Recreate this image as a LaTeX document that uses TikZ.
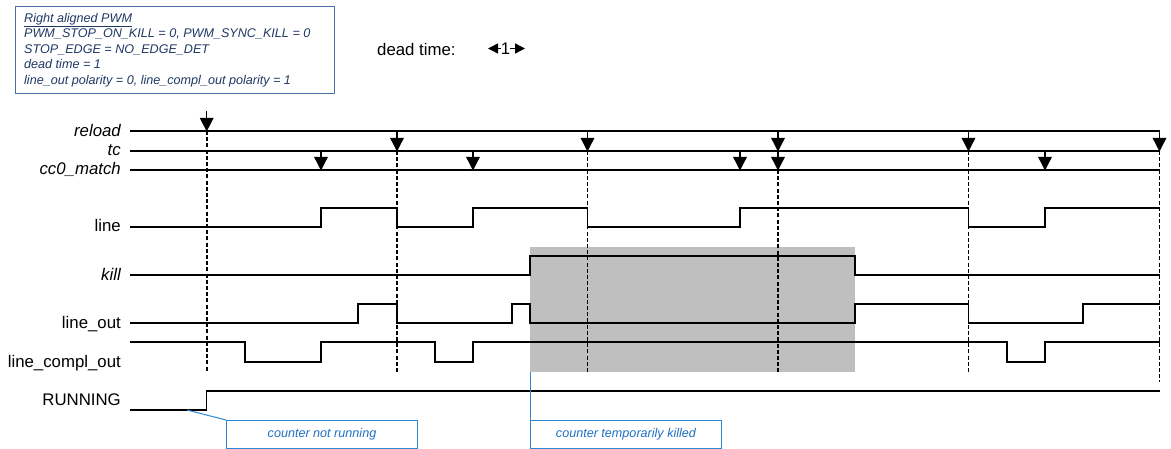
\documentclass[tikz,border=0pt]{standalone}
\usepackage{fontspec}
\setmainfont{Liberation Sans}
\usetikzlibrary{arrows.meta}
\definecolor{navy}{HTML}{1F3864}
\definecolor{boxblue}{HTML}{4A6FA5}
\definecolor{callblue}{HTML}{2E86D4}
\definecolor{calltext}{HTML}{1F72C4}
\definecolor{killgrey}{HTML}{BFBFBF}
\begin{document}
\begin{tikzpicture}[x=1pt,y=-1pt,
  sig/.style={line width=1.1pt, line join=miter},
  evt/.style={line width=1.4pt, -{Triangle[length=13.5pt,width=13.5pt]}},
  guide/.style={line width=1.6pt, dash pattern=on 4pt off 2.2pt},
  lbl/.style={anchor=base east, inner sep=0pt, font=\fontsize{16.8}{20}\selectfont},
  ilbl/.style={anchor=base east, inner sep=0pt, font=\fontsize{16.8}{20}\selectfont\itshape},
  infotxt/.style={anchor=base west, inner sep=0pt, text=navy, font=\fontsize{12.6}{15}\selectfont\itshape},
  callbox/.style={draw=callblue, line width=1pt, anchor=north west, minimum width=191pt, minimum height=28pt, inner sep=0pt, text=calltext, font=\fontsize{12.6}{15}\selectfont\itshape},
  small/.style={-{Triangle[length=10pt,width=10pt]}, line width=1.4pt}
]
\useasboundingbox (0,0) rectangle (1171,449);
\fill[white] (0,0) rectangle (1171,449);

% info box
\node (info) [draw=boxblue, line width=0.9pt, anchor=north west, minimum width=319pt, minimum height=87pt, inner sep=0pt] at (15,6) {};
\node (i1) [infotxt] at (24,22.5) {\underline{Right aligned PWM}};
\node (i2) [infotxt] at (24,38) {PWM\_STOP\_ON\_KILL = 0, PWM\_SYNC\_KILL = 0};
\node (i3) [infotxt] at (24,53.5) {STOP\_EDGE = NO\_EDGE\_DET};
\node (i4) [infotxt] at (24,69) {dead time = 1};
\node (i5) [infotxt] at (24,84.5) {line\_out polarity = 0, line\_compl\_out polarity = 1};

% dead time legend
\node (dt) [anchor=base west, inner sep=0pt, font=\fontsize{16.8}{20}\selectfont] at (377,56) {dead time:};
\node (one) [anchor=base, inner sep=0pt, font=\fontsize{16.8}{20}\selectfont] at (505.5,54.5) {1};
\coordinate (dl) at (488,48.5);
\coordinate (dr) at (525,48.5);
\draw[small] (501,48.5) -- (dl);
\draw[small] (510,48.5) -- (dr);

% kill shaded region
\fill[killgrey] (530,247.3) rectangle (855,371.7);

% labels
\node (lreload) [ilbl] at (121,136.5) {reload};
\node (ltc)     [ilbl] at (121,155.5) {tc};
\node (lcc)     [ilbl] at (121,174.5) {cc0\_match};
\node (lline)   [lbl]  at (121,232) {line};
\node (lkill)   [ilbl] at (121,280.5) {kill};
\node (lout)    [lbl]  at (121,329) {line\_out};
\node (lcomp)   [lbl]  at (121,367) {line\_compl\_out};
\node (lrun)    [lbl]  at (121,405.5) {RUNNING};

% event lines
\draw[sig] (130,131) -- (1160,131);
\draw[sig] (130,151) -- (1160,151);
\draw[sig] (130,170) -- (1160,170);

% waveforms
\draw[sig] (130,227) -| (321,208) -| (397,227) -| (473,208) -| (587.5,227) -| (740,208) -| (968.5,227) -| (1045,208) -- (1160,208);
\draw[sig] (130,275) -| (530,256) -| (855,275) -- (1160,275);
\draw[sig] (130,323) -| (358,304) -| (397,323) -| (512,304) -| (530,323) -| (855,304) -| (968.5,323) -| (1083,304) -- (1160,304);
\draw[sig] (130,342) -| (245,362) -| (321,342) -| (435,362) -| (473,342) -| (1007,362) -| (1045,342) -- (1160,342);
\draw[sig] (130,410) -| (206.7,391) -- (1160,391);

% dashed guides
\draw[guide] (206.7,131) -- (206.7,372);
\draw[guide] (397,151) -- (397,372);
\draw[guide] (587.5,151) -- (587.5,372);
\draw[guide] (778,170) -- (778,372);
\draw[guide] (968.5,151) -- (968.5,372);
\draw[guide] (1159.5,151) -- (1159.5,382);

% event arrows
\draw[evt] (206.7,111) -- (206.7,131.5);
\foreach \x in {397,587.5,778,968.5,1159.5} \draw[evt] (\x,131) -- (\x,151.5);
\foreach \x in {321,473,740,778,1045} \draw[evt] (\x,151) -- (\x,170.5);

% callouts
\node (cnr) [callbox] at (226,420) {counter not running};
\node (ctk) [callbox] at (530,420) {counter temporarily killed};
\coordinate (runlow) at (187,410);
\coordinate (killbot) at (530,371.7);
\draw[callblue, line width=1pt] (runlow) -- (cnr.north west);
\draw[callblue, line width=1pt] (killbot) -- (ctk.north west);
\end{tikzpicture}
\end{document}
